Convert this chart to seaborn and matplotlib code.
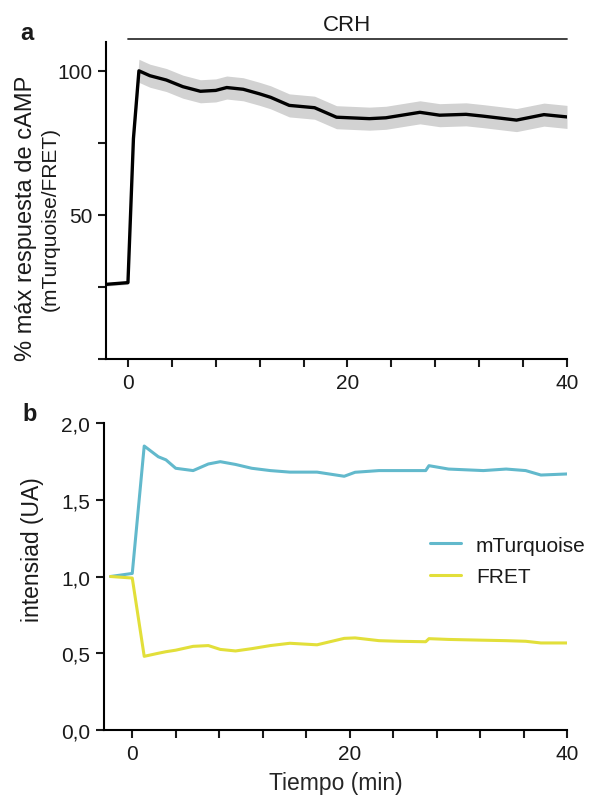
import numpy as np
import pandas as pd
import matplotlib
matplotlib.use("Agg")
import matplotlib.pyplot as plt
import seaborn as sns

# Panel a: respuesta de cAMP (media +/- SEM)
tiempo_a = [-2, 0, 0.5, 1, 2, 3.5, 5, 6.6, 8, 9, 10.5, 12, 13, 14.7, 17, 19, 22, 23.5, 26.6, 28.4, 30.8, 32.3, 35.4, 37.9, 40]
camp = [25.9, 26.5, 76.5, 100, 98.3, 96.8, 94.5, 92.9, 93.2, 94.2, 93.6, 92.0, 90.8, 88.0, 87.2, 83.9, 83.4, 83.7, 85.6, 84.6, 84.9, 84.3, 82.9, 84.8, 84.0]
sem = [0.6, 0.6, 2.5, 4.0, 4.0, 4.0, 4.0, 4.0, 4.0, 4.0, 4.0, 4.0, 4.0, 4.0, 4.0, 4.0, 4.0, 4.0, 4.0, 4.0, 4.0, 4.0, 4.0, 4.0, 4.0]

# Panel b: intensidad de los canales
tiempo_b = [-2, 0, 1.1, 2.4, 3.1, 4.0, 5.6, 7, 8.1, 9.5, 11, 12.7, 14.5, 17, 19.5, 20.5, 22.7, 24.5, 27, 27.3, 29.1, 32.3, 34.4, 36.2, 37.6, 40]
mturquoise = [1.0, 1.02, 1.85, 1.78, 1.76, 1.705, 1.69, 1.733, 1.748, 1.73, 1.705, 1.69, 1.68, 1.68, 1.653, 1.679, 1.69, 1.69, 1.69, 1.722, 1.70, 1.69, 1.70, 1.69, 1.661, 1.668]
fret = [1.0, 0.99, 0.48, 0.50, 0.51, 0.52, 0.545, 0.55, 0.525, 0.515, 0.53, 0.55, 0.565, 0.555, 0.597, 0.60, 0.582, 0.578, 0.575, 0.595, 0.59, 0.585, 0.582, 0.578, 0.567, 0.567]

crh_inicio, crh_fin = 0, 40

sns.set_style("ticks")
plt.rcParams['font.family'] = ['Liberation Sans', 'DejaVu Sans']
plt.rcParams['axes.linewidth'] = 1.5
plt.rcParams['text.color'] = '#1a1a1a'
plt.rcParams['xtick.color'] = '#1a1a1a'
plt.rcParams['ytick.color'] = '#1a1a1a'

fig = plt.figure(figsize=(6.03, 8.03), dpi=100)
ax1 = fig.add_axes([106/603, 1 - 360/803, 461/603, 317/803])
ax2 = fig.add_axes([104/603, 72/803, 463/603, 307/803])

df_a = pd.DataFrame({'t': tiempo_a, 'camp': camp, 'sem': sem})
lo = df_a['camp'] - df_a['sem']
hi = df_a['camp'] + df_a['sem']
ax1.fill_between(df_a['t'], lo, hi, color='#d2d2d2', lw=0)
sns.lineplot(data=df_a, x='t', y='camp', ax=ax1, color='black', lw=2.4)

ax1.set_xlim(-2, 40)
ax1.set_ylim(0, 110)
ax1.set_xticks(range(0, 41, 4))
ax1.set_xticklabels([str(v) if v % 20 == 0 else '' for v in range(0, 41, 4)])
ax1.set_yticks([0, 25, 50, 75, 100])
ax1.set_yticklabels(['', '', '50', '', '100'])
ax1.set_xlabel('')
ax1.set_ylabel('')
sns.despine(ax=ax1)

# barra CRH
ax1.plot([crh_inicio, crh_fin], [111.2, 111.2], color='#333333', lw=1.3, clip_on=False)
ax1.text((crh_inicio + crh_fin) / 2, 116, 'CRH', ha='center', va='center', fontsize=16)

fig.text(26/603, 1 - 218/803, '% máx respuesta de cAMP', rotation=90, ha='center', va='center', fontsize=17)
fig.text(50/603, 1 - 219/803, '(mTurquoise/FRET)', rotation=90, ha='center', va='center', fontsize=15)
fig.text(27/603, 1 - 33/803, 'a', fontsize=17, fontweight='bold', ha='center', va='center')

df_b = pd.DataFrame({
    't': tiempo_b * 2,
    'valor': mturquoise + fret,
    'canal': ['mTurquoise'] * len(tiempo_b) + ['FRET'] * len(tiempo_b),
})
sns.lineplot(data=df_b, x='t', y='valor', hue='canal', ax=ax2,
             palette={'mTurquoise': '#62b9cc', 'FRET': '#e2df3a'}, lw=2.2)

ax2.set_xlim(-2.6, 40)
ax2.set_ylim(0, 2.0)
ax2.set_xticks(range(0, 41, 4))
ax2.set_xticklabels([str(v) if v % 20 == 0 else '' for v in range(0, 41, 4)])
ax2.set_yticks([0, 0.5, 1.0, 1.5, 2.0])
ax2.set_yticklabels(['0,0', '0,5', '1,0', '1,5', '2,0'])
ax2.set_xlabel('Tiempo (min)', fontsize=16.5, labelpad=6)
ax2.set_ylabel('')
fig.text(33/603, 1 - 550/803, 'intensiad (UA)', rotation=90, ha='center', va='center', fontsize=16.5)
sns.despine(ax=ax2)
ax2.legend(title=None, frameon=False, loc='center left', bbox_to_anchor=((430 - 104) / 463, (731 - 562) / 307),
           borderaxespad=0, borderpad=0, handlelength=1.5, handletextpad=0.7, labelspacing=0.6, fontsize=15)
fig.text(30/603, 1 - 415/803, 'b', fontsize=17, fontweight='bold', ha='center', va='center')

for ax in (ax1, ax2):
    ax.tick_params(axis='both', labelsize=15, length=5.5, width=1.5, pad=4.5)
    for s in ax.spines.values():
        s.set_color('black')

fig.savefig('out.png', dpi=100)
